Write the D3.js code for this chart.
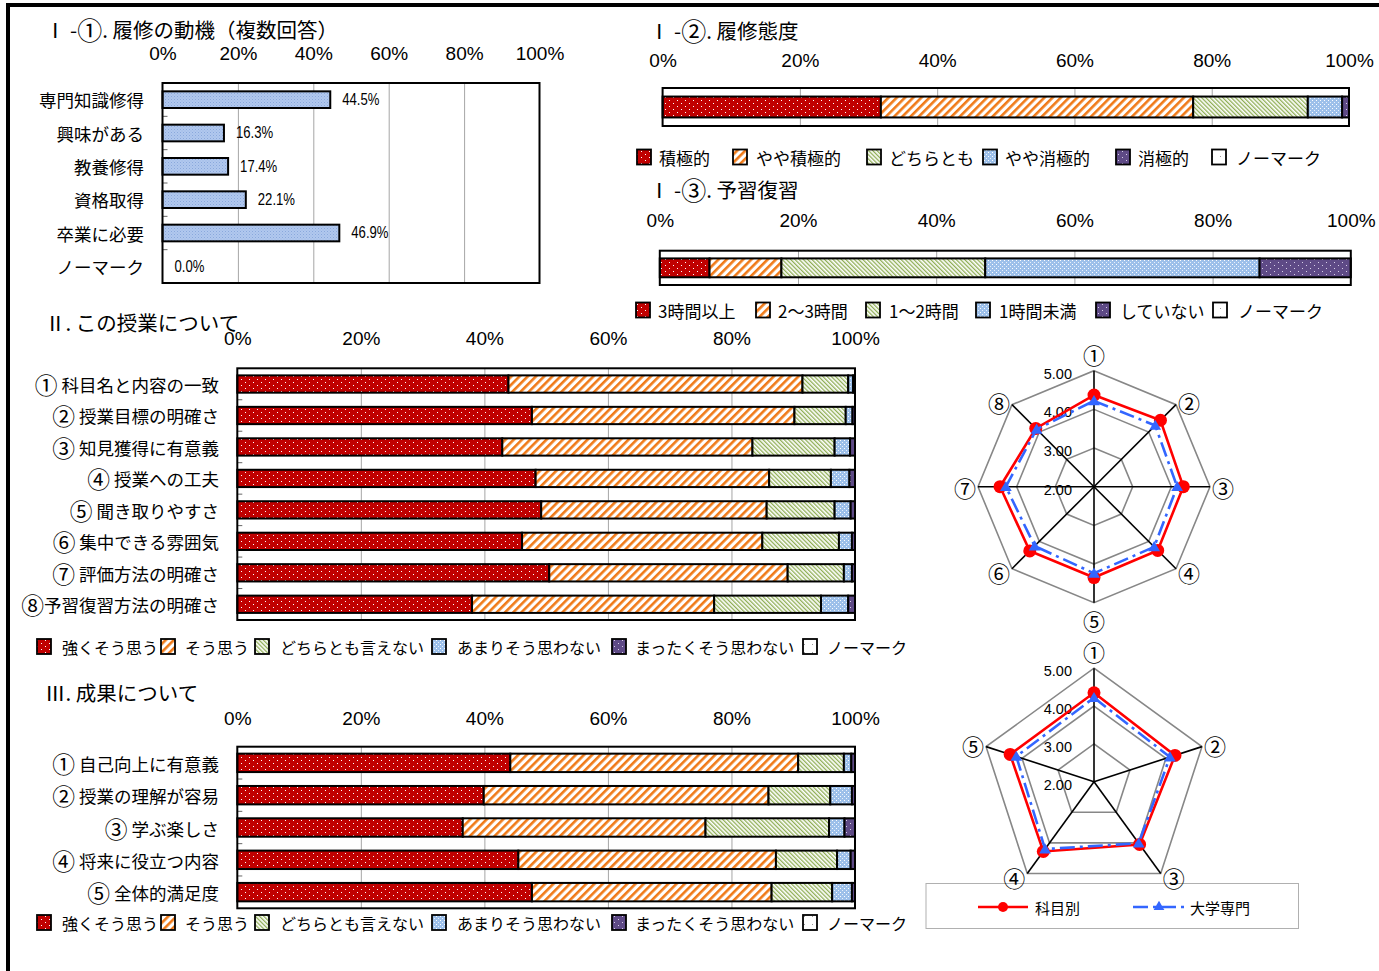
<!DOCTYPE html>
<html><head><meta charset="utf-8">
<script src="https://cdn.jsdelivr.net/npm/d3@7"></script>
<style>
body{margin:0;background:#fff;}
svg{display:block;}
</style></head><body>
<svg id="c" width="1379" height="971"></svg>
<script>
// ---------------- DATA ----------------
const pctTicks = [0, 20, 40, 60, 80, 100];

const motiveCats = ["専門知識修得", "興味がある", "教養修得", "資格取得", "卒業に必要", "ノーマーク"];
const motiveVals = [44.5, 16.3, 17.4, 22.1, 46.9, 0.0];

const attitudeKeys = ["積極的", "やや積極的", "どちらとも", "やや消極的", "消極的", "ノーマーク"];
const attitudeVals = [31.8, 45.5, 16.7, 5.0, 1.0, 0];

const studyKeys = ["3時間以上", "2～3時間", "1～2時間", "1時間未満", "していない", "ノーマーク"];
const studyVals = [7.2, 10.4, 29.5, 39.7, 13.2, 0];

const agreeKeys = ["強くそう思う", "そう思う", "どちらとも言えない", "あまりそう思わない", "まったくそう思わない", "ノーマーク"];

const classCats = ["① 科目名と内容の一致", "② 授業目標の明確さ", "③ 知見獲得に有意義", "④ 授業への工夫",
  "⑤ 聞き取りやすさ", "⑥ 集中できる雰囲気", "⑦ 評価方法の明確さ", "⑧予習復習方法の明確さ"];
const classVals = [
  [43.9, 47.6, 7.4, 0.8, 0.3, 0],
  [47.7, 42.5, 8.3, 1.1, 0.4, 0],
  [42.9, 40.5, 13.3, 2.5, 0.8, 0],
  [48.3, 37.8, 10.0, 3.0, 0.9, 0],
  [49.2, 36.5, 11.0, 2.6, 0.7, 0],
  [46.1, 38.9, 12.4, 2.1, 0.5, 0],
  [50.5, 38.6, 9.1, 1.3, 0.5, 0],
  [38.0, 39.2, 17.3, 4.4, 1.1, 0]
];

const outcomeCats = ["① 自己向上に有意義", "② 授業の理解が容易", "③ 学ぶ楽しさ", "④ 将来に役立つ内容", "⑤ 全体的満足度"];
const outcomeVals = [
  [44.2, 46.6, 7.4, 1.2, 0.6, 0],
  [39.9, 46.1, 10.0, 3.5, 0.5, 0],
  [36.5, 39.3, 20.0, 2.5, 1.7, 0],
  [45.5, 41.7, 9.9, 2.2, 0.7, 0],
  [47.7, 38.8, 9.8, 3.2, 0.5, 0]
];

const radarSeries = ["科目別", "大学専門"];
const radarTicks = [2, 3, 4, 5];
const radar1Axes = ["①", "②", "③", "④", "⑤", "⑥", "⑦", "⑧"];
const radar1Subject = [4.37, 4.43, 4.31, 4.33, 4.35, 4.35, 4.43, 4.13];
const radar1Univ = [4.22, 4.24, 4.15, 4.20, 4.24, 4.17, 4.28, 4.10];
const radar2Axes = ["①", "②", "③", "④", "⑤"];
const radar2Subject = [4.35, 4.25, 4.05, 4.28, 4.33];
const radar2Univ = [4.22, 4.11, 4.01, 4.20, 4.16];

// ---------------- STYLE ----------------
const JP = '"Noto Sans CJK JP","Noto Sans",sans-serif';
const NUM = '"Liberation Sans",Arial,sans-serif';

const svg = d3.select("#c");
const defs = svg.append("defs");

function makePattern(id, w, h, bg, items, rot) {
  const p = defs.append("pattern").attr("id", id).attr("patternUnits", "userSpaceOnUse")
    .attr("width", w).attr("height", h);
  if (rot) p.attr("patternTransform", `rotate(${rot})`);
  p.append("rect").attr("width", w).attr("height", h).attr("fill", bg);
  items.forEach(it => p.append("rect").attr("x", it[0]).attr("y", it[1]).attr("width", it[2]).attr("height", it[3]).attr("fill", it[4]));
}
makePattern("p0", 8, 6, "#C00000", [[1, 1, 1, 1, "#fff"], [5, 4, 1, 1, "#fff"]]);
makePattern("p1", 5.8, 6, "#fff", [[0, 0, 2.6, 6, "#F07A18"]], 45);
makePattern("p2", 3, 3, "#fff", [[0, 0, 1.3, 3, "#8FAE55"]], -45);
makePattern("p3", 4, 4, "#9DC0EA", [[0, 0, 1, 1, "#fff"], [2, 2, 1, 1, "#e8f0fb"]]);
makePattern("p4", 8, 6, "#5E4A86", [[2, 1, 1, 1, "#d8d0e8"], [6, 4, 1, 1, "#d8d0e8"]]);
makePattern("p5", 8, 8, "#fff", [[4, 4, 1, 1, "#999"]]);
makePattern("pm", 3, 3, "#B1C8EE", [[0, 0, 1, 1, "#8AA8DC"], [1.5, 1.5, 1, 1, "#98B4E4"]]);

// page border
svg.append("line").attr("x1", 8).attr("x2", 8).attr("y1", 3).attr("y2", 971).attr("stroke", "#000").attr("stroke-width", 4);
svg.append("line").attr("x1", 6).attr("x2", 1379).attr("y1", 5).attr("y2", 5).attr("stroke", "#000").attr("stroke-width", 4);

const CIRC = /^[\u2460-\u2473]/;
// writes text; a leading circled digit is drawn larger (as in the reference font)
function jpText(sel, txt, fs) {
  if (CIRC.test(txt)) {
    sel.append("tspan").attr("font-size", fs * 1.3).text(txt[0]);
    sel.append("tspan").text(txt.slice(1));
  } else sel.text(txt);
}

function title(txt, x, y) {
  const t = svg.append("text").attr("x", x).attr("y", y).attr("dominant-baseline", "central")
    .attr("font-family", JP).attr("font-size", 20.5).attr("fill", "#000");
  const m = txt.match(/^(.*?)([\u2460-\u2473])(.*)$/);
  if (m) {
    t.append("tspan").text(m[1]);
    t.append("tspan").attr("font-size", 25).text(m[2]);
    t.append("tspan").text(m[3]);
  } else t.text(txt);
}

function pctAxis(g, x, tickY) {
  g.append("g").attr("transform", `translate(0,${tickY + 7})`)
    .call(d3.axisTop(x).tickValues(pctTicks).tickSize(0).tickPadding(0).tickFormat(d => d + "%"))
    .call(a => a.select(".domain").remove())
    .call(a => a.selectAll("text").attr("font-family", NUM).attr("font-size", 19).attr("fill", "#000"));
}

function grid(g, x, y0, y1) {
  g.append("g").attr("transform", `translate(0,${y1})`)
    .call(d3.axisBottom(x).tickValues(pctTicks.slice(1, -1)).tickSize(-(y1 - y0)).tickFormat(""))
    .call(a => a.select(".domain").remove())
    .call(a => a.selectAll("line").attr("stroke", "#a6a6a6").attr("stroke-width", 1));
}

function catTicks(g, y, x0, n) {
  const step = y.step();
  for (let k = 1; k < n; k++) {
    const yy = y.range()[0] + k * step;
    g.append("line").attr("x1", x0).attr("x2", x0 + 5).attr("y1", yy).attr("y2", yy).attr("stroke", "#666").attr("stroke-width", 1);
  }
}

function stackedChart(cfg) {
  const g = svg.append("g");
  const x = d3.scaleLinear().domain([0, 100]).range([cfg.x0, cfg.x1]);
  const idx = d3.range(cfg.rows.length);
  const y = d3.scaleBand().domain(idx).range([cfg.y0, cfg.y1]).paddingInner(cfg.pad).paddingOuter(cfg.pad / 2);
  g.append("rect").attr("x", cfg.x0).attr("y", cfg.y0).attr("width", cfg.x1 - cfg.x0).attr("height", cfg.y1 - cfg.y0).attr("fill", "#fff");
  grid(g, x, cfg.y0, cfg.y1);
  pctAxis(g, x, cfg.tickY);
  const series = d3.stack().keys(d3.range(6))(cfg.rows);
  series.forEach((s, k) => {
    g.selectAll(null).data(s.map((d, i) => ({ d, i })).filter(o => o.d[1] - o.d[0] > 0)).join("rect")
      .attr("x", o => x(o.d[0])).attr("width", o => x(o.d[1]) - x(o.d[0]))
      .attr("y", o => y(o.i)).attr("height", y.bandwidth())
      .attr("fill", `url(#p${k})`).attr("stroke", "#000").attr("stroke-width", 2);
  });
  if (cfg.cats) {
    catTicks(g, y, cfg.x0, cfg.rows.length);
    cfg.cats.forEach((c, i) => {
      const t = g.append("text").attr("x", cfg.labelX).attr("y", y(i) + y.bandwidth() / 2).attr("text-anchor", "end")
        .attr("dominant-baseline", "central").attr("font-family", JP).attr("font-size", 17.5).attr("fill", "#000");
      jpText(t, c, 17.5);
    });
  }
  g.append("rect").attr("x", cfg.x0).attr("y", cfg.y0).attr("width", cfg.x1 - cfg.x0).attr("height", cfg.y1 - cfg.y0)
    .attr("fill", "none").attr("stroke", "#000").attr("stroke-width", 2);
}

function legend(keys, swX, txX, ly, fs) {
  const g = svg.append("g");
  keys.forEach((k, i) => {
    g.append("rect").attr("x", swX[i]).attr("y", ly - 7.5).attr("width", 14).attr("height", 15)
      .attr("fill", `url(#p${i})`).attr("stroke", "#000").attr("stroke-width", 1.8);
    g.append("text").attr("x", txX[i]).attr("y", ly).attr("dominant-baseline", "central")
      .attr("font-family", JP).attr("font-size", fs).attr("fill", "#000").text(k);
  });
}

// ---------------- I-① ----------------
title("Ⅰ -①. 履修の動機（複数回答）", 45, 29);
(function () {
  const g = svg.append("g");
  const x0 = 162.5, x1 = 539.5, y0 = 83, y1 = 283;
  const x = d3.scaleLinear().domain([0, 100]).range([x0, x1]);
  const y = d3.scaleBand().domain(d3.range(motiveCats.length)).range([y0, y1]).paddingInner(0.5).paddingOuter(0.25);
  grid(g, x, y0, y1);
  pctAxis(g, x, 53);
  catTicks(g, y, x0, motiveCats.length);
  g.selectAll(null).data(motiveVals).join("rect")
    .attr("x", x(0)).attr("y", (d, i) => y(i)).attr("width", d => x(d) - x(0)).attr("height", y.bandwidth())
    .attr("fill", "url(#pm)").attr("stroke", d => d > 0 ? "#000" : "none").attr("stroke-width", 2);
  g.selectAll(null).data(motiveVals).join("text")
    .attr("transform", (d, i) => `translate(${x(d) + 12},${y(i) + y.bandwidth() / 2}) scale(0.82,1)`)
    .attr("dominant-baseline", "central")
    .attr("font-family", NUM).attr("font-size", 16).attr("fill", "#000").text(d => d.toFixed(1) + "%");
  g.selectAll(null).data(motiveCats).join("text")
    .attr("x", 144).attr("y", (d, i) => y(i) + y.bandwidth() / 2).attr("text-anchor", "end")
    .attr("dominant-baseline", "central").attr("font-family", JP).attr("font-size", 17.5).attr("fill", "#000").text(d => d);
  g.append("rect").attr("x", x0).attr("y", y0).attr("width", x1 - x0).attr("height", y1 - y0)
    .attr("fill", "none").attr("stroke", "#000").attr("stroke-width", 2);
})();

// ---------------- I-② ----------------
title("Ⅰ -②. 履修態度", 649, 30);
stackedChart({ x0: 662.6, x1: 1349, y0: 88, y1: 126, pad: 0.45, tickY: 60, rows: [attitudeVals] });
legend(attitudeKeys, [637, 733, 867, 983, 1116, 1212], [659, 756, 889, 1005, 1138, 1236], 157, 17);

// ---------------- I-③ ----------------
title("Ⅰ -③. 予習復習", 649, 189);
stackedChart({ x0: 659.8, x1: 1350.8, y0: 250.7, y1: 285, pad: 0.45, tickY: 220, rows: [studyVals] });
legend(studyKeys, [636, 756, 866, 976, 1096, 1213], [658, 778, 889, 999, 1120, 1238], 310, 17);

// ---------------- II ----------------
title("Ⅱ. この授業について", 45, 322);
stackedChart({ x0: 237.3, x1: 855, y0: 368.3, y1: 620, pad: 0.45, tickY: 338, rows: classVals, cats: classCats, labelX: 219 });
legend(agreeKeys, [37, 161, 255, 432, 612, 803], [62, 185, 280, 457, 635, 827], 646.5, 16);

// ---------------- III ----------------
title("Ⅲ. 成果について", 45, 692);
stackedChart({ x0: 237.3, x1: 855, y0: 746.7, y1: 908.3, pad: 0.43, tickY: 718, rows: outcomeVals, cats: outcomeCats, labelX: 219 });
legend(agreeKeys, [37, 161, 255, 432, 612, 803], [62, 185, 280, 457, 635, 827], 922.5, 16);

// ---------------- RADAR LEGEND (drawn under the radar labels) ----------------
(function () {
  const g = svg.append("g");
  g.append("rect").attr("x", 926).attr("y", 883.5).attr("width", 372.5).attr("height", 45)
    .attr("fill", "#fff").attr("stroke", "#b0b0b0").attr("stroke-width", 1);
  const ly = 907;
  g.append("line").attr("x1", 978).attr("x2", 1028).attr("y1", ly).attr("y2", ly).attr("stroke", "#FF0000").attr("stroke-width", 2.6);
  g.append("circle").attr("cx", 1003).attr("cy", ly).attr("r", 5).attr("fill", "#FF0000");
  g.append("line").attr("x1", 1133).attr("x2", 1185).attr("y1", ly).attr("y2", ly).attr("stroke", "#3366FF").attr("stroke-width", 2.6)
    .attr("stroke-dasharray", "15,5,3,5");
  g.append("path").attr("d", d3.symbol(d3.symbolTriangle).size(50)).attr("transform", `translate(1159,${ly})`).attr("fill", "#3366FF");
  g.append("text").attr("x", 1035).attr("y", ly).attr("dominant-baseline", "central").attr("font-family", JP)
    .attr("font-size", 15).attr("fill", "#000").text(radarSeries[0]);
  g.append("text").attr("x", 1190).attr("y", ly).attr("dominant-baseline", "central").attr("font-family", JP)
    .attr("font-size", 15).attr("fill", "#000").text(radarSeries[1]);
})();

// ---------------- RADAR ----------------
function radar(cfg) {
  const g = svg.append("g").attr("transform", `translate(${cfg.cx},${cfg.cy})`);
  const n = cfg.axes.length;
  const r = d3.scaleLinear().domain([radarTicks[0], radarTicks[radarTicks.length - 1]]).range([0, cfg.R]);
  const ang = i => i * 2 * Math.PI / n;
  const line = d3.lineRadial().angle((d, i) => ang(i)).radius(d => r(d)).curve(d3.curveLinearClosed);
  radarTicks.slice(1).forEach(t => {
    g.append("path").attr("d", line(cfg.axes.map(() => t))).attr("fill", "none").attr("stroke", "#878787").attr("stroke-width", 1.6);
  });
  cfg.axes.forEach((a, i) => {
    const p = d3.pointRadial(ang(i), r(5));
    g.append("line").attr("x1", 0).attr("y1", 0).attr("x2", p[0]).attr("y2", p[1]).attr("stroke", "#000").attr("stroke-width", 1.6);
    const dx = Math.sin(ang(i)), dy = -Math.cos(ang(i));
    const off = Math.abs(dx) > 0.1 ? [Math.sign(dx) * 13, dy * 4] : [0, Math.sign(dy) * 17];
    g.append("text").attr("x", p[0] + off[0]).attr("y", p[1] + off[1]).attr("text-anchor", "middle")
      .attr("dominant-baseline", "central").attr("font-family", JP).attr("font-size", 22).attr("fill", "#000").text(a);
  });
  radarTicks.forEach(t => {
    g.append("text").attr("x", -22).attr("y", -r(t) + 3).attr("text-anchor", "end").attr("dominant-baseline", "central")
      .attr("font-family", NUM).attr("font-size", 14.5).attr("fill", "#000").text(t.toFixed(2));
  });
  // subject series
  g.append("path").attr("d", line(cfg.subject)).attr("fill", "none").attr("stroke", "#FF0000").attr("stroke-width", 2.6);
  g.selectAll(null).data(cfg.subject).join("circle")
    .attr("cx", (d, i) => d3.pointRadial(ang(i), r(d))[0]).attr("cy", (d, i) => d3.pointRadial(ang(i), r(d))[1])
    .attr("r", 6.5).attr("fill", "#FF0000");
  // university series
  g.append("path").attr("d", line(cfg.univ)).attr("fill", "none").attr("stroke", "#3366FF").attr("stroke-width", 2.6)
    .attr("stroke-dasharray", "15,5,3,5");
  g.selectAll(null).data(cfg.univ).join("path")
    .attr("d", d3.symbol(d3.symbolTriangle).size(60))
    .attr("transform", (d, i) => { const p = d3.pointRadial(ang(i), r(d)); return `translate(${p[0]},${p[1] + 1})`; })
    .attr("fill", "#3366FF");
}
radar({ cx: 1094, cy: 486.7, R: 116, axes: radar1Axes, subject: radar1Subject, univ: radar1Univ });
radar({ cx: 1094, cy: 781.7, R: 113.5, axes: radar2Axes, subject: radar2Subject, univ: radar2Univ });
</script>
</body></html>
